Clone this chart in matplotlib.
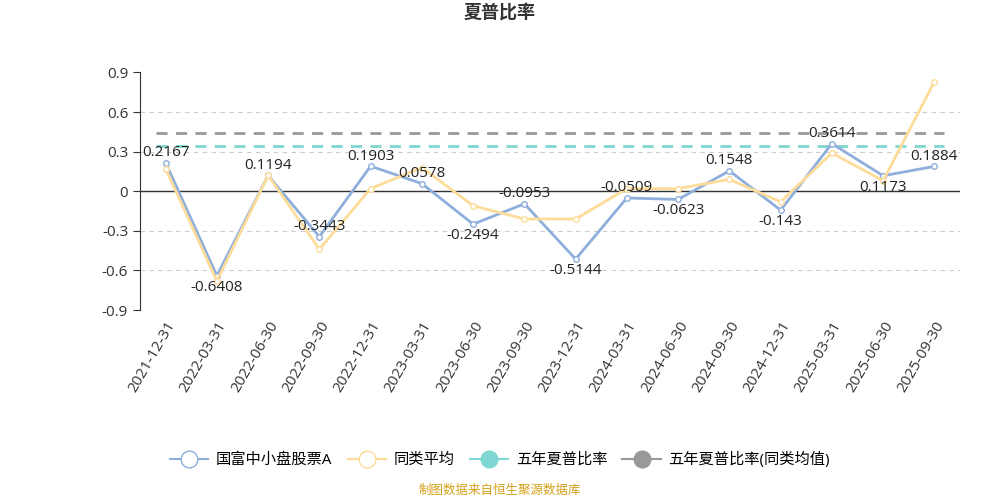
import matplotlib
matplotlib.use("Agg")
import matplotlib.pyplot as plt

plt.rcParams['font.family'] = ['Open Sans', 'Noto Sans CJK SC', 'DejaVu Sans']

dates = ["2021-12-31","2022-03-31","2022-06-30","2022-09-30","2022-12-31","2023-03-31",
         "2023-06-30","2023-09-30","2023-12-31","2024-03-31","2024-06-30","2024-09-30",
         "2024-12-31","2025-03-31","2025-06-30","2025-09-30"]
fund = [0.2167,-0.6408,0.1194,-0.3443,0.1903,0.0578,-0.2494,-0.0953,-0.5144,-0.0509,-0.0623,0.1548,-0.143,0.3614,0.1173,0.1884]
peer = [0.17,-0.68,0.12,-0.44,0.02,0.18,-0.11,-0.21,-0.21,0.02,0.02,0.09,-0.08,0.29,0.08,0.83]
five_year = 0.346
five_year_peer = 0.44
yticks = [-0.9,-0.6,-0.3,0,0.3,0.6,0.9]
below = {1, 6, 8, 10, 12, 14}

fig = plt.figure(figsize=(10,5), dpi=100)
ax = fig.add_axes([0.14, 0.38, 0.82, 0.475])
x = list(range(len(dates)))
ax.plot(x, fund, color='#8eaedb', lw=2, marker='o', ms=4, mfc='white', mec='#8eaedb', zorder=3)
ax.plot(x, peer, color='#fddc9a', lw=2, marker='o', ms=4, mfc='white', mec='#fddc9a', zorder=3)
ax.axhline(five_year, color='#7fd6d2', lw=2, ls=(0,(4,3)), xmin=0.02, xmax=0.98)
ax.axhline(five_year_peer, color='#999999', lw=2, ls=(0,(4,3)), xmin=0.02, xmax=0.98)
for xi, v in zip(x, fund):
    if xi in below:
        ax.text(xi, v-0.03, str(v), ha='center', va='top', fontsize=11, color='#222222', zorder=4)
    else:
        ax.text(xi, v+0.02, str(v), ha='center', va='bottom', fontsize=11, color='#222222', zorder=4)
ax.set_xlim(-0.5, len(dates)-0.5)
ax.set_ylim(-0.9, 0.9)
ax.set_yticks(yticks)
ax.set_yticklabels(['-0.9','-0.6','-0.3','0','0.3','0.6','0.9'], fontsize=11, color='#333333')
ax.set_xticks(x)
ax.set_xticklabels(dates, rotation=60, ha='right', rotation_mode='anchor', fontsize=11, color='#333333')
ax.grid(axis='y', ls=(0,(4,4)), color='#cccccc')
for s in ['top','right','bottom']:
    ax.spines[s].set_visible(False)
ax.spines['left'].set_color('#333333')
ax.axhline(0, color='#333333', lw=1)
ax.tick_params(axis='x', length=0, pad=6)
ax.tick_params(axis='y', length=5, color='#333333')
fig.text(0.5, 0.965, '夏普比率', ha='center', fontsize=13, fontweight='bold', color='#333333')
from matplotlib.lines import Line2D
h = [Line2D([],[],color='#8eaedb',marker='o',mfc='white',ms=12,lw=1.5),
     Line2D([],[],color='#fddc9a',marker='o',mfc='white',ms=12,lw=1.5),
     Line2D([],[],color='#7fd6d2',marker='o',ms=12,lw=1.5),
     Line2D([],[],color='#999999',marker='o',ms=12,lw=1.5)]
fig.legend(h, ['国富中小盘股票A','同类平均','五年夏普比率','五年夏普比率(同类均值)'], loc='center',
           bbox_to_anchor=(0.5,0.08), ncol=4, frameon=False, fontsize=11, handlelength=2.5,
           columnspacing=1.0, handletextpad=0.5)
fig.text(0.5, 0.012, '制图数据来自恒生聚源数据库', ha='center', fontsize=9, color='#d4a017')
fig.savefig('out.png')
